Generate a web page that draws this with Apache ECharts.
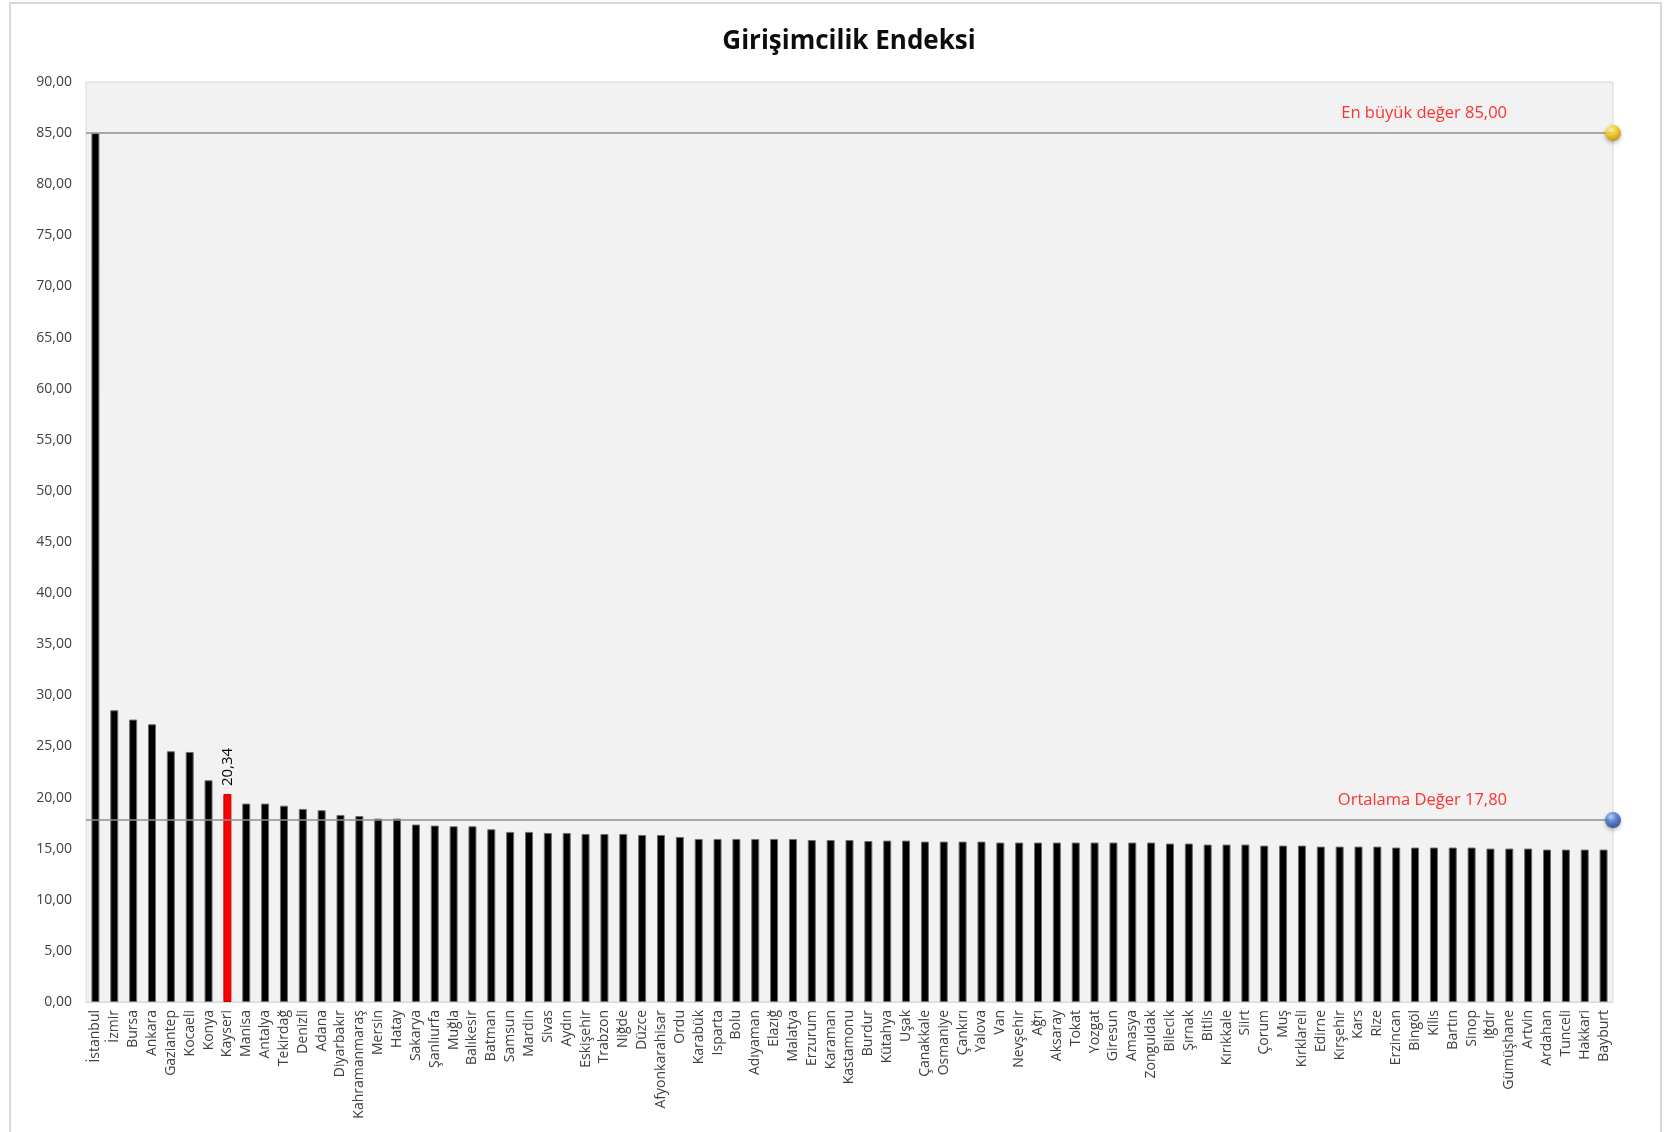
<!DOCTYPE html>
<html>
<head>
<meta charset="utf-8">
<title>Girişimcilik Endeksi</title>
<script src="https://cdn.jsdelivr.net/npm/echarts@6/dist/echarts.min.js"></script>
<style>
  html, body { margin: 0; padding: 0; background: #fff; }
  #chart { width: 1664px; height: 1132px; }
</style>
</head>
<body>
<div id="chart"></div>
<script>
// provinces, sorted by index value
const provinces = [
  'İstanbul', 'İzmir', 'Bursa', 'Ankara', 'Gaziantep', 'Kocaeli', 'Konya', 'Kayseri', 'Manisa', 'Antalya',
  'Tekirdağ', 'Denizli', 'Adana', 'Diyarbakır', 'Kahramanmaraş', 'Mersin', 'Hatay', 'Sakarya', 'Şanlıurfa', 'Muğla',
  'Balıkesir', 'Batman', 'Samsun', 'Mardin', 'Sivas', 'Aydın', 'Eskişehir', 'Trabzon', 'Niğde', 'Düzce',
  'Afyonkarahisar', 'Ordu', 'Karabük', 'Isparta', 'Bolu', 'Adıyaman', 'Elazığ', 'Malatya', 'Erzurum', 'Karaman',
  'Kastamonu', 'Burdur', 'Kütahya', 'Uşak', 'Çanakkale', 'Osmaniye', 'Çankırı', 'Yalova', 'Van', 'Nevşehir',
  'Ağrı', 'Aksaray', 'Tokat', 'Yozgat', 'Giresun', 'Amasya', 'Zonguldak', 'Bilecik', 'Şırnak', 'Bitlis',
  'Kırıkkale', 'Siirt', 'Çorum', 'Muş', 'Kırklareli', 'Edirne', 'Kırşehir', 'Kars', 'Rize', 'Erzincan',
  'Bingöl', 'Kilis', 'Bartın', 'Sinop', 'Iğdır', 'Gümüşhane', 'Artvin', 'Ardahan', 'Tunceli', 'Hakkari',
  'Bayburt'
]

const values = [
  85.00, 28.54, 27.63, 27.17, 24.53, 24.46, 21.69, 20.34, 19.41, 19.41,
  19.21, 18.89, 18.76, 18.30, 18.20, 17.94, 17.94, 17.36, 17.26, 17.19,
  17.19, 16.90, 16.64, 16.64, 16.54, 16.54, 16.44, 16.44, 16.44, 16.34,
  16.34, 16.15, 15.95, 15.95, 15.95, 15.95, 15.95, 15.95, 15.85, 15.85,
  15.85, 15.75, 15.79, 15.79, 15.69, 15.69, 15.69, 15.69, 15.60, 15.60,
  15.60, 15.60, 15.60, 15.60, 15.60, 15.60, 15.60, 15.50, 15.50, 15.40,
  15.40, 15.40, 15.30, 15.30, 15.30, 15.20, 15.20, 15.20, 15.20, 15.11,
  15.11, 15.11, 15.11, 15.11, 15.01, 15.01, 15.01, 14.91, 14.91, 14.91,
  14.91
]

const highlightProvince = 'Kayseri'
const maxValue = 85.00
const meanValue = 17.80
const yTicks = { min: 0, max: 90, interval: 5 }

const fmt = v => v.toFixed(2).replace('.', ',')

function sphere(light, mid, dark) {
  return {
    type: 'radial', x: 0.38, y: 0.32, r: 0.75,
    colorStops: [
      { offset: 0, color: light },
      { offset: 0.45, color: mid },
      { offset: 1, color: dark }
    ]
  }
}

const chart = echarts.init(document.getElementById('chart'))

const barData = values.map((v, i) => {
  if (provinces[i] === highlightProvince) {
    return {
      value: v,
      itemStyle: { color: '#ff0000', borderColor: '#c00000' },
      label: {
        show: true,
        position: 'top',
        rotate: 90,
        align: 'left',
        verticalAlign: 'middle',
        distance: 8,
        fontSize: 15,
        color: '#000',
        fontFamily: 'Open Sans',
        formatter: p => fmt(p.value)
      }
    }
  }
  return v
})

const option = {
  backgroundColor: '#fff',
  animation: false,
  title: {
    text: 'Girişimcilik Endeksi',
    left: 844,
    top: 24,
    textAlign: 'center',
    textStyle: { fontSize: 26, fontWeight: 'bold', color: '#0d0d0d', fontFamily: 'Open Sans' }
  },
  graphic: [{
    type: 'rect',
    silent: true,
    shape: { x: 10, y: 3, width: 1651, height: 1140 },
    style: { fill: 'none', stroke: '#d9d9d9', lineWidth: 2 }
  }],
  grid: {
    left: 86, right: 51, top: 82, bottom: 130,
    show: true,
    backgroundColor: '#f2f2f2',
    borderColor: '#d9d9d9',
    borderWidth: 1
  },
  xAxis: [{
    type: 'category',
    data: provinces,
    axisTick: { show: false },
    axisLine: { show: true, lineStyle: { color: '#d9d9d9' } },
    axisLabel: {
      interval: 0,
      rotate: 90,
      margin: 8,
      fontSize: 14,
      color: '#404040',
      fontFamily: 'Open Sans'
    }
  }, {
    type: 'value',
    min: 0,
    max: 1,
    show: false
  }],
  yAxis: {
    type: 'value',
    min: yTicks.min,
    max: yTicks.max,
    interval: yTicks.interval,
    splitLine: { show: false },
    axisLine: { show: false },
    axisTick: { show: false },
    axisLabel: {
      margin: 14,
      fontSize: 14,
      color: '#404040',
      fontFamily: 'Open Sans',
      formatter: v => fmt(v)
    }
  },
  series: [
    {
      type: 'bar',
      data: barData,
      barWidth: 8,
      itemStyle: { color: '#000', borderColor: '#6e6e6e', borderWidth: 1 },
      markLine: {
        silent: true,
        symbol: 'none',
        label: { show: false },
        lineStyle: { color: '#8f8f8f', width: 1.5, type: 'solid' },
        data: [{ yAxis: maxValue }, { yAxis: meanValue }]
      },
      z: 2
    },
    {
      type: 'scatter',
      xAxisIndex: 1,
      clip: false,
      symbolSize: 16,
      z: 5,
      label: {
        show: true,
        position: 'left',
        distance: 98,
        offset: [0, -20],
        fontSize: 16.5,
        color: '#ff0000',
        fontFamily: 'Open Sans'
      },
      itemStyle: { shadowColor: 'rgba(0,0,0,0.35)', shadowBlur: 4, shadowOffsetY: 2 },
      data: [
        {
          value: [1, maxValue],
          itemStyle: { color: sphere('#fffbc8', '#ffd000', '#b08000') },
          label: { formatter: 'En büyük değer ' + fmt(maxValue) }
        },
        {
          value: [1, meanValue],
          itemStyle: { color: sphere('#b8d4ff', '#3f74d6', '#17367a') },
          label: { formatter: 'Ortalama Değer ' + fmt(meanValue) }
        }
      ]
    }
  ]
}

chart.setOption(option)
</script>
</body>
</html>
